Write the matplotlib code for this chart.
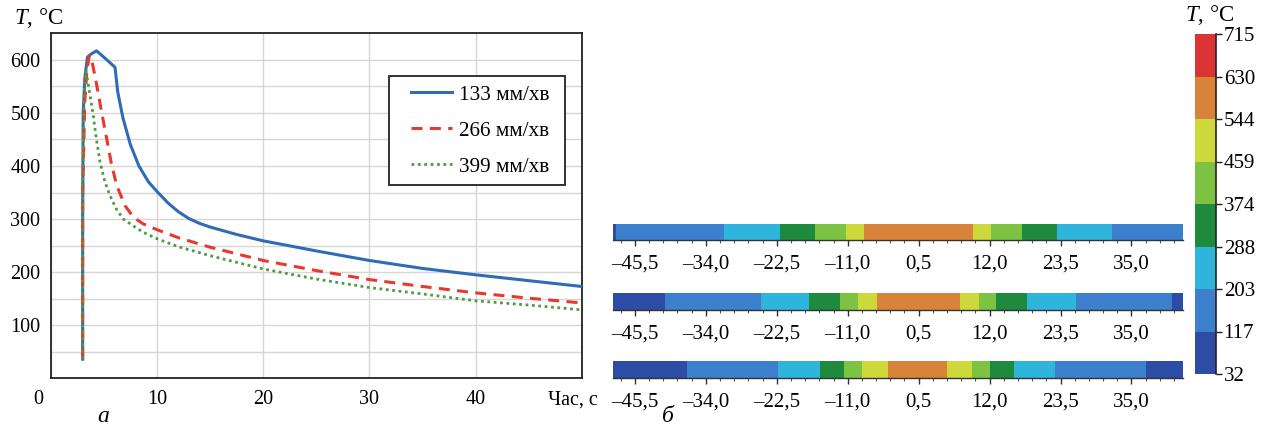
import matplotlib
matplotlib.use("Agg")
import matplotlib.pyplot as plt
import numpy as np
from matplotlib.colors import ListedColormap, BoundaryNorm
from matplotlib.transforms import ScaledTranslation
from matplotlib.ticker import FixedLocator
from matplotlib.patches import Rectangle

# ---------------- data ----------------
time_133 = [3.0, 3.0, 3.05, 3.2, 3.45, 3.8, 4.3, 5.0, 6.05, 6.3, 6.8, 7.5, 8.3, 9.2, 10.0, 11.0, 12.0, 13.0, 14.0, 15.0, 17.5, 20, 25, 30, 35, 40, 45, 50]
temp_133 = [36, 300, 500, 565, 605, 611, 617, 605, 586, 540, 490, 440, 400, 370, 352, 331, 314, 301, 292, 285, 271, 259, 240, 222, 207, 195, 184, 173]

time_266 = [3.0, 3.0, 3.2, 3.4, 3.63, 3.9, 4.33, 4.8, 5.27, 5.7, 6.21, 7.0, 7.8, 8.7, 10, 12, 15, 20, 25, 30, 35, 40, 45, 50]
temp_266 = [36, 350, 520, 580, 608, 595, 552, 500, 451, 405, 363, 325, 303, 291, 280, 265, 247, 222, 203, 186, 173, 161, 151, 142]

time_399 = [3.0, 3.0, 3.15, 3.32, 3.6, 4.0, 4.3, 4.64, 5.1, 5.58, 6.2, 6.83, 7.7, 8.72, 10, 12, 15, 20, 25, 30, 35, 40, 45, 50]
temp_399 = [36, 350, 540, 578, 545, 495, 450, 407, 370, 344, 318, 300, 288, 275, 263, 248, 231, 206, 187, 171, 159, 146, 138, 129]

legend_labels = ["133 мм/хв", "266 мм/хв", "399 мм/хв"]
x_ticks = [0, 10, 20, 30, 40, 50]
x_tick_labels = ["0", "10", "20", "30", "40", "Час, с"]
y_ticks = [100, 200, 300, 400, 500, 600]
y_minor = [50, 150, 250, 350, 450, 550]

levels = [32, 117, 203, 288, 374, 459, 544, 630, 715]
band_colors = ["#2c4ca6", "#3c7fcc", "#2fb5dc", "#1d8a3e", "#7dc242", "#cdd83a", "#d9833a", "#dc3432"]

strip_ticks = [-45.5, -34.0, -22.5, -11.0, 0.5, 12.0, 23.5, 35.0]
strip_tick_labels = ["–45,5", "–34,0", "–22,5", "–11,0", "0,5", "12,0", "23,5", "35,0"]

strip1_edges = [-49.0, -48.6, -31.0, -22.0, -16.3, -11.35, -8.3, 9.3, 12.2, 17.2, 22.85, 31.8, 43.4]
strip1_temps = [75, 160, 245, 331, 416, 501, 587, 501, 416, 331, 245, 160]
strip2_edges = [-49.0, -40.6, -25.0, -17.3, -12.3, -9.4, -6.3, 7.2, 10.25, 13.1, 18.0, 26.0, 41.5, 43.4]
strip2_temps = [75, 160, 245, 331, 416, 501, 587, 501, 416, 331, 245, 160, 75]
strip3_edges = [-49.0, -37.0, -22.3, -15.5, -11.6, -8.7, -4.5, 5.1, 9.2, 12.0, 16.0, 22.6, 37.3, 43.4]
strip3_temps = [75, 160, 245, 331, 416, 501, 587, 501, 416, 331, 245, 160, 75]

# ---------------- style ----------------
plt.rcParams['font.family'] = ['Liberation Serif', 'DejaVu Serif']
plt.rcParams['font.size'] = 14.5
plt.rcParams['mathtext.fontset'] = 'custom'
plt.rcParams['mathtext.rm'] = 'Liberation Serif'
plt.rcParams['mathtext.it'] = 'Liberation Serif:italic'

W, H = 1275, 429
fig = plt.figure(figsize=(W / 100, H / 100), dpi=100)

def fx(px):
    return px / W

def fy(py):
    return 1 - py / H

# ---------------- left chart ----------------
AX_L, AX_R, AX_T, AX_B = 50.8, 581.7, 33.3, 378.3
ax = fig.add_axes([fx(AX_L), fy(AX_B), fx(AX_R - AX_L), (AX_B - AX_T) / H])
ax.plot(time_133, temp_133, color="#2f6cb5", lw=2.2, label=legend_labels[0], zorder=3)
ax.plot(time_266, temp_266, color="#e8392e", lw=2.2, linestyle=(0, (3.6, 2.4)), label=legend_labels[1], zorder=4)
ax.plot(time_399, temp_399, color="#4f9c40", lw=2.0, linestyle=(0, (1, 1.3)), label=legend_labels[2], zorder=5)
ax.set_xlim(0, 50)
ax.set_ylim(0, 650)
ax.set_xticks(x_ticks, x_tick_labels)
ax.set_yticks(y_ticks)
ax.set_yticks(y_minor, minor=True)
ax.grid(axis='x', which='major', color='#d6d6d6', lw=1.0)
ax.grid(axis='y', which='both', color='#d6d6d6', lw=1.0)
ax.set_axisbelow(True)
ax.tick_params(which='both', length=0)
ax.tick_params(axis='x', pad=8.5)
ax.tick_params(axis='y', pad=7.5)
for s in ax.spines.values():
    s.set_color('#222222')
    s.set_linewidth(1.3)

xt = ax.xaxis.get_major_ticks()
xt[0].label1.set_transform(xt[0].label1.get_transform() + ScaledTranslation(-12.5 / 100, 0, fig.dpi_scale_trans))
xt[-1].label1.set_transform(xt[-1].label1.get_transform() + ScaledTranslation(-9 / 100, 0, fig.dpi_scale_trans))

def axx(px):
    return (px - AX_L) / (AX_R - AX_L)

def axy(py):
    return (AX_B - py) / (AX_B - AX_T)

# legend frame (px box 389..565 x 76..185)
ax.add_patch(Rectangle((axx(389), axy(185)), axx(565) - axx(389), axy(76) - axy(185),
                       transform=ax.transAxes, facecolor='white', edgecolor='#222222',
                       lw=1.3, zorder=6, clip_on=False))
leg = ax.legend(loc='center left', bbox_to_anchor=(axx(411), axy(130.7)), frameon=False,
                handlelength=1.95, handletextpad=0.3, labelspacing=0.76, borderpad=0,
                borderaxespad=0, fontsize=15.3)
leg.set_zorder(7)

fig.text(fx(39), fy(18), r"$T$, °C", ha='center', va='center', fontsize=16.5)
fig.text(fx(103), fy(417), "а", ha='center', va='center', fontstyle='italic', fontsize=17)
fig.text(fx(668), fy(417), "б", ha='center', va='center', fontstyle='italic', fontsize=17)

# ---------------- strips ----------------
cmap = ListedColormap(band_colors)
norm = BoundaryNorm(levels, cmap.N)

strips = [(strip1_edges, strip1_temps, 240.0),
          (strip2_edges, strip2_temps, 309.5),
          (strip3_edges, strip3_temps, 377.5)]
minor_locs = list(np.arange(-45.5 - 2.3, 43.5, 2.3))
mappable = None
for edges, temps, bottom in strips:
    sax = fig.add_axes([fx(613.3), fy(bottom), fx(1183.3 - 613.3), 16.5 / H])
    mappable = sax.pcolormesh(edges, [0, 1], [temps], cmap=cmap, norm=norm, shading='flat')
    sax.set_xlim(edges[0], edges[-1])
    sax.set_ylim(0, 1)
    sax.set_yticks([])
    for side in ['left', 'right', 'top']:
        sax.spines[side].set_visible(False)
    sax.spines['bottom'].set_color('#333333')
    sax.spines['bottom'].set_linewidth(1.0)
    sax.xaxis.set_major_locator(FixedLocator(strip_ticks))
    sax.set_xticklabels(strip_tick_labels)
    sax.xaxis.set_minor_locator(FixedLocator(minor_locs))
    sax.tick_params(axis='x', which='major', length=4.5, width=1.0, color='#333333', pad=6, labelsize=15)
    sax.tick_params(axis='x', which='minor', length=2.5, width=0.8, color='#555555')

# ---------------- colorbar ----------------
cax = fig.add_axes([fx(1195), fy(374), fx(1216 - 1195), (374 - 34) / H])
cb = fig.colorbar(mappable, cax=cax, ticks=levels)
cb.outline.set_visible(False)
cax.plot([1, 1], [0, 1], transform=cax.transAxes, color='#222222', lw=1.2, clip_on=False)
cax.tick_params(length=4, width=1.0, pad=1.5, labelsize=15, color='#222222')
fig.text(fx(1210), fy(15), r"$T$, °C", ha='center', va='center', fontsize=16.5)

fig.savefig("out.png", dpi=100)
